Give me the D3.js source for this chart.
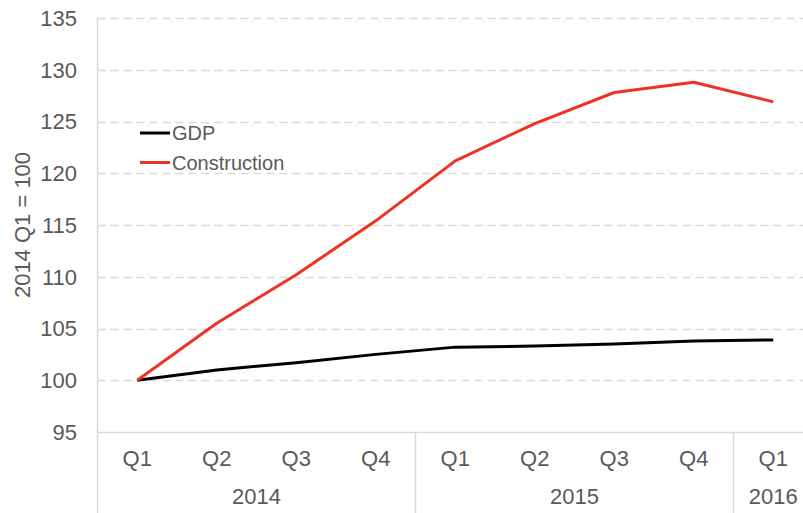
<!DOCTYPE html>
<html>
<head>
<meta charset="utf-8">
<script src="https://cdn.jsdelivr.net/npm/d3@7"></script>
<style>
  body { margin: 0; background: #fff; }
  text { font-family: "Liberation Sans", Arial, sans-serif; fill: #595959; }
</style>
</head>
<body>
<div id="chart"></div>
<script>
// data
const quarters = ["Q1", "Q2", "Q3", "Q4", "Q1", "Q2", "Q3", "Q4", "Q1"];
const years = ["2014", "2014", "2014", "2014", "2015", "2015", "2015", "2015", "2016"];
const gdp = [100, 101.0, 101.7, 102.5, 103.2, 103.3, 103.5, 103.8, 103.9];
const construction = [100, 105.5, 110.2, 115.4, 121.2, 124.8, 127.8, 128.8, 126.9];
const yTicks = [95, 100, 105, 110, 115, 120, 125, 130, 135];

const width = 803, height = 513;
const plotLeft = 97.5, plotTop = 18, axisY = 432;
const step = 79.5;

const svg = d3.select("#chart").append("svg")
    .attr("width", width)
    .attr("height", height);

const idx = d3.range(quarters.length);
const x = d3.scaleBand()
    .domain(idx)
    .range([plotLeft, plotLeft + step * quarters.length]);
const y = d3.scaleLinear()
    .domain([95, 135])
    .range([axisY, plotTop]);

// gridlines
svg.append("g")
    .selectAll("line")
    .data(yTicks.filter(d => d > 95))
    .join("line")
    .attr("x1", plotLeft)
    .attr("x2", width)
    .attr("y1", d => Math.round(y(d)) + 0.5)
    .attr("y2", d => Math.round(y(d)) + 0.5)
    .attr("stroke", "#d9d9d9")
    .attr("stroke-width", 1.3)
    .attr("stroke-dasharray", "8,5");

// y axis labels
svg.append("g")
    .selectAll("text")
    .data(yTicks)
    .join("text")
    .attr("x", 77)
    .attr("y", d => y(d))
    .attr("dy", "0.36em")
    .attr("text-anchor", "end")
    .style("font-size", "22px")
    .text(d => d);

// axis lines
svg.append("line")
    .attr("x1", plotLeft).attr("x2", width)
    .attr("y1", axisY + 0.5).attr("y2", axisY + 0.5)
    .attr("stroke", "#d9d9d9").attr("stroke-width", 1.5);
svg.append("line")
    .attr("x1", plotLeft).attr("x2", plotLeft)
    .attr("y1", plotTop).attr("y2", height)
    .attr("stroke", "#d9d9d9").attr("stroke-width", 1.5);

// year separators
const yearGroups = d3.groups(idx, i => years[i]);
svg.append("g")
    .selectAll("line")
    .data(yearGroups.slice(1))
    .join("line")
    .attr("x1", d => x(d[1][0]))
    .attr("x2", d => x(d[1][0]))
    .attr("y1", axisY)
    .attr("y2", height)
    .attr("stroke", "#d9d9d9")
    .attr("stroke-width", 1.5);

// quarter labels
svg.append("g")
    .selectAll("text")
    .data(idx)
    .join("text")
    .attr("x", i => x(i) + x.bandwidth() / 2)
    .attr("y", 466)
    .attr("text-anchor", "middle")
    .style("font-size", "22px")
    .text(i => quarters[i]);

// year labels
svg.append("g")
    .selectAll("text")
    .data(yearGroups)
    .join("text")
    .attr("x", d => (x(d[1][0]) + x(d[1][d[1].length - 1]) + x.bandwidth()) / 2)
    .attr("y", 504)
    .attr("text-anchor", "middle")
    .style("font-size", "22px")
    .text(d => d[0]);

// y title
svg.append("text")
    .attr("transform", "translate(30," + 225 + ") rotate(-90)")
    .attr("text-anchor", "middle")
    .style("font-size", "22px")
    .text("2014 Q1 = 100");

// lines
const line = d3.line()
    .x((d, i) => x(i) + x.bandwidth() / 2)
    .y(d => y(d));

const series = [
    {name: "GDP", values: gdp, color: "#000000"},
    {name: "Construction", values: construction, color: "#ee3224"}
];

svg.append("g")
    .selectAll("path")
    .data(series)
    .join("path")
    .attr("d", d => line(d.values))
    .attr("fill", "none")
    .attr("stroke", d => d.color)
    .attr("stroke-width", 3)
    .attr("stroke-linejoin", "round");

// legend
const legend = svg.append("g")
    .selectAll("g")
    .data(series)
    .join("g")
    .attr("transform", (d, i) => "translate(140," + (133 + i * 29.5) + ")");
legend.append("line")
    .attr("x1", 0).attr("x2", 30)
    .attr("stroke", d => d.color)
    .attr("stroke-width", 3);
legend.append("text")
    .attr("x", 32)
    .attr("dy", "0.36em")
    .style("font-size", "20px")
    .text(d => d.name);
</script>
</body>
</html>
